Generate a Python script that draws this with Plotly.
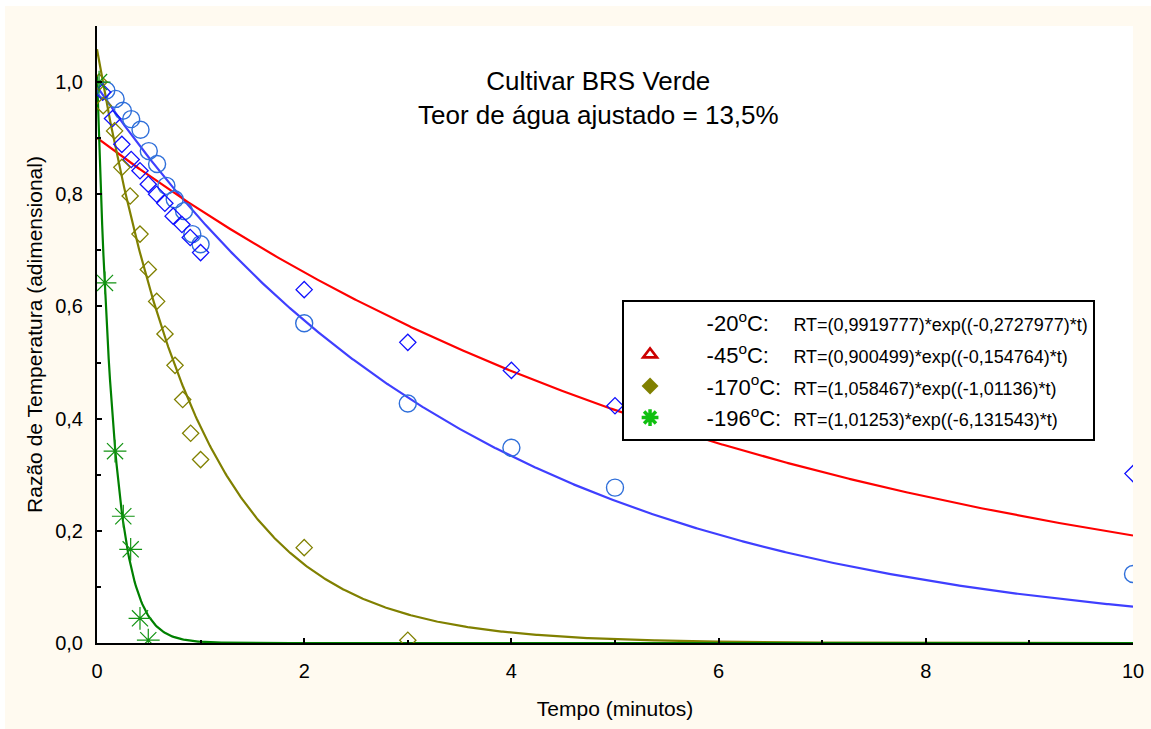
import numpy as np
import plotly.graph_objects as go

# ---- data ----
t_circ = [0.09, 0.18, 0.25, 0.33, 0.42, 0.50, 0.58, 0.67, 0.75, 0.84, 0.92, 1.00, 2, 3, 4, 5, 10]
rt_circ = [0.985, 0.970, 0.949, 0.934, 0.915, 0.877, 0.854, 0.815, 0.791, 0.770, 0.729, 0.711,
           0.570, 0.427, 0.348, 0.277, 0.123]

t_bdia = [0.055, 0.15, 0.24, 0.33, 0.415, 0.495, 0.575, 0.655, 0.735, 0.82, 0.90, 1.00, 2, 3, 4, 5, 10]
rt_bdia = [0.982, 0.935, 0.889, 0.862, 0.842, 0.818, 0.800, 0.784, 0.761, 0.746, 0.723, 0.696,
           0.630, 0.536, 0.486, 0.423, 0.302]

t_odia = [0.02, 0.06, 0.17, 0.24, 0.32, 0.415, 0.495, 0.576, 0.656, 0.753, 0.827, 0.904, 1.00, 2, 3]
rt_odia = [1.000, 0.958, 0.913, 0.848, 0.797, 0.729, 0.666, 0.609, 0.551, 0.495, 0.434, 0.374, 0.327,
           0.170, 0.005]

t_green = [0.02, 0.077, 0.174, 0.254, 0.325, 0.415, 0.495]
rt_green = [1.000, 0.642, 0.342, 0.226, 0.167, 0.044, 0.005]

# fitted models RT = a*exp(b*t)
temps = ["-20", "-45", "-170", "-196"]
fit_a = [0.9919777, 0.900499, 1.058467, 1.01253]
fit_b = [-0.2727977, -0.154764, -1.01136, -6.131543]
fit_a_txt = ["0,9919777", "0,900499", "1,058467", "1,01253"]
fit_b_txt = ["-0,2727977", "-0,154764", "-1,01136", "-6,131543"]
line_colors = ["#3F3FFF", "#FF0000", "#808000", "#008000"]

x_ticks = [0, 2, 4, 6, 8, 10]
y_ticks = [0.0, 0.2, 0.4, 0.6, 0.8, 1.0]

FONT = "Liberation Sans, Arial, sans-serif"
CREAM = "#FFFAF0"

fig = go.Figure()

tgrid = np.linspace(0, 10, 800)
for a, b, c in zip(fit_a, fit_b, line_colors):
    fig.add_trace(go.Scatter(x=tgrid, y=a * np.exp(b * tgrid), mode="lines",
                             line=dict(color=c, width=2.2), showlegend=False, hoverinfo="skip"))

fig.add_trace(go.Scatter(x=t_circ, y=rt_circ, mode="markers", showlegend=False,
                         marker=dict(symbol="circle-open", size=17, color="#2F6FDA",
                                     line=dict(width=1.4, color="#2F6FDA"))))
fig.add_trace(go.Scatter(x=t_bdia, y=rt_bdia, mode="markers", showlegend=False,
                         marker=dict(symbol="diamond-open", size=12.5, color="#1010FF",
                                     line=dict(width=1.3, color="#1010FF"))))
fig.add_trace(go.Scatter(x=t_odia, y=rt_odia, mode="markers", showlegend=False,
                         marker=dict(symbol="diamond-open", size=12.5, color="#808000",
                                     line=dict(width=1.3, color="#808000"))))
fig.add_trace(go.Scatter(x=t_green, y=rt_green, mode="markers", showlegend=False,
                         marker=dict(symbol="asterisk-open", size=19, color="#129312",
                                     line=dict(width=1.2, color="#129312"))))

# legend entries
leg_markers = [
    dict(symbol="circle", size=1, color="rgba(0,0,0,0)", line=dict(width=0)),
    dict(symbol="triangle-up-open", size=12, color="#CC0000", line=dict(width=2.6, color="#CC0000")),
    dict(symbol="diamond", size=13, color="#808000", line=dict(width=0)),
    dict(symbol="asterisk-open", size=14, color="#10C010", line=dict(width=3.5, color="#10C010")),
]
pads = ["&nbsp;&nbsp;&nbsp;&nbsp;", "&nbsp;&nbsp;&nbsp;&nbsp;", "&nbsp;&nbsp;", "&nbsp;&nbsp;"]
lead = "&nbsp;" * 5
for i, (tp, m) in enumerate(zip(temps, leg_markers)):
    name = (lead + tp + "<sup>o</sup>C:" + pads[i] +
            "<span style='font-size:18px'>RT=(" + fit_a_txt[i] + ")*exp((" + fit_b_txt[i] + ")*t)</span>")
    fig.add_trace(go.Scatter(x=[None], y=[None], mode="markers", name=name, marker=m,
                             legendgroup="g%d" % i, showlegend=True))

# white outer border strips (the cream panel is inset a few pixels)
fig.add_shape(type="rect", xref="paper", yref="paper", x0=-0.0936, x1=-0.0888, y0=-0.14, y1=1.043,
              fillcolor="white", line_width=0, layer="below")
fig.add_shape(type="rect", xref="paper", yref="paper", x0=-0.0936, x1=1.0174, y0=1.0324, y1=1.043,
              fillcolor="white", line_width=0, layer="below")

fig.add_annotation(text="Cultivar BRS Verde<br>Teor de água ajustado = 13,5%",
                   xref="paper", yref="paper", x=0.4836, y=0.8825, showarrow=False,
                   xanchor="center", yanchor="middle", font=dict(family=FONT, size=26, color="black"))

fig.update_layout(
    width=1151, height=729,
    margin=dict(l=97, r=18, t=26, b=86, autoexpand=False),
    paper_bgcolor=CREAM, plot_bgcolor="white",
    separators=",.",
    font=dict(family=FONT, color="black"),
    showlegend=True,
    legend=dict(x=0.5068, y=0.556, xanchor="left", yanchor="top",
                bgcolor="white", bordercolor="black", borderwidth=2,
                font=dict(family=FONT, size=22, color="black"),
                itemwidth=42, tracegroupgap=0),
    xaxis=dict(range=[0, 10], tickvals=x_ticks, ticks="inside", ticklen=5, tickwidth=2,
               tickcolor="black", showline=True, linecolor="black", linewidth=2,
               showgrid=False, zeroline=False, mirror=False, automargin=False,
               minor=dict(dtick=1, ticks="inside", ticklen=3, tickwidth=1.5, tickcolor="black"),
               tickfont=dict(family=FONT, size=20), ticklabelstandoff=9,
               title=dict(text="Tempo (minutos)", font=dict(family=FONT, size=21), standoff=20)),
    yaxis=dict(range=[0, 1.1], tickvals=y_ticks, tickformat=".1f", ticks="inside", ticklen=5,
               tickwidth=2, tickcolor="black", showline=True, linecolor="black", linewidth=2,
               showgrid=False, zeroline=False, mirror=False, automargin=False,
               minor=dict(dtick=0.1, ticks="inside", ticklen=4, tickwidth=1.5, tickcolor="black"),
               tickfont=dict(family=FONT, size=20), ticklabelstandoff=8,
               title=dict(text="Razão de Temperatura (adimensional)", font=dict(family=FONT, size=21),
                          standoff=7)),
)

fig.write_html("out.html", config={"displayModeBar": False},
               post_script="document.body.style.margin='0px';document.body.style.overflow='hidden';")
